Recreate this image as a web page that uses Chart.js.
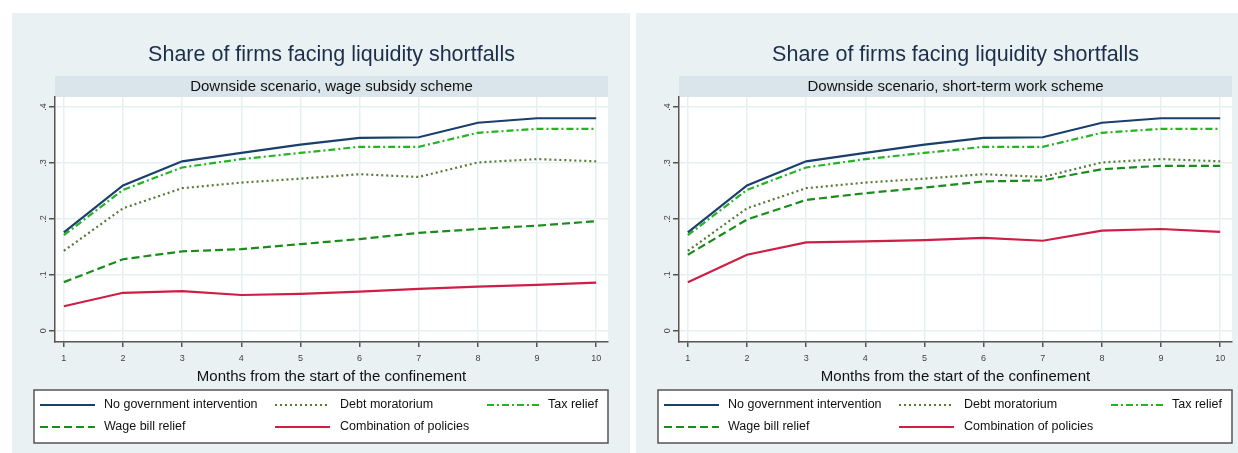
<!DOCTYPE html>
<html>
<head>
<meta charset="utf-8">
<script src="https://cdn.jsdelivr.net/npm/chart.js@4"></script>
<style>
  html, body { margin: 0; padding: 0; background: #fff; }
  body { width: 1238px; height: 453px; overflow: hidden; position: relative; }
  .panel { position: absolute; top: 13px; width: 618px; height: 440px; }
  #left { left: 12px; }
  #right { left: 636px; }
</style>
</head>
<body>
<div class="panel" id="left"><canvas id="chartLeft" width="618" height="440"></canvas></div>
<div class="panel" id="right"><canvas id="chartRight" width="618" height="440"></canvas></div>
<script>
// months since start of confinement
const months = [1, 2, 3, 4, 5, 6, 7, 8, 9, 10];
const yTicks = [0, 0.1, 0.2, 0.3, 0.4];

// series shared by both panels
const noGovt = [0.176, 0.260, 0.303, 0.318, 0.333, 0.345, 0.346, 0.372, 0.380, 0.380];
const debtMoratorium = [0.143, 0.219, 0.255, 0.265, 0.272, 0.280, 0.275, 0.301, 0.307, 0.303];
const taxRelief = [0.171, 0.252, 0.292, 0.307, 0.318, 0.329, 0.329, 0.354, 0.361, 0.361];

// wage subsidy scheme
const wageBillA = [0.087, 0.128, 0.142, 0.146, 0.155, 0.164, 0.175, 0.182, 0.188, 0.196];
const comboA = [0.044, 0.068, 0.071, 0.064, 0.066, 0.070, 0.075, 0.079, 0.082, 0.086];

// short-term work scheme
const wageBillB = [0.136, 0.199, 0.234, 0.246, 0.256, 0.267, 0.269, 0.289, 0.295, 0.295];
const comboB = [0.087, 0.136, 0.158, 0.160, 0.162, 0.166, 0.161, 0.179, 0.182, 0.177];

const FONT = "'Liberation Sans', Arial, sans-serif";

function makeDatasets(wage, combo) {
  const pts = (arr) => arr.map((v, i) => ({ x: months[i], y: v }));
  return [
    { label: "No government intervention", data: pts(noGovt), borderColor: "#1a3f6b", borderWidth: 2.2, borderDash: [] },
    { label: "Debt moratorium", data: pts(debtMoratorium), borderColor: "#557a35", borderWidth: 2.2, borderDash: [2, 3] },
    { label: "Tax relief", data: pts(taxRelief), borderColor: "#22b422", borderWidth: 2.2, borderDash: [7, 3, 2, 3] },
    { label: "Wage bill relief", data: pts(wage), borderColor: "#1a8c1a", borderWidth: 2.2, borderDash: [8, 4] },
    { label: "Combination of policies", data: pts(combo), borderColor: "#cc1f45", borderWidth: 2.2, borderDash: [] },
  ];
}

// panel background, headings and legend
const panelPlugin = {
  id: "panel",
  beforeDraw(chart, args, opts) {
    const { ctx, chartArea: a, width, height } = chart;
    ctx.save();
    ctx.fillStyle = "#e9f1f3";
    ctx.fillRect(0, 0, width, height);
    ctx.fillStyle = "#ffffff";
    ctx.fillRect(a.left, a.top, a.right - a.left, a.bottom - a.top);
    ctx.fillStyle = "#d9e5ea";
    ctx.fillRect(a.left, 63, a.right - a.left, a.top - 63);

    const cx = (a.left + a.right) / 2;
    ctx.textAlign = "center";
    ctx.textBaseline = "middle";
    ctx.fillStyle = "#1c2e4c";
    ctx.font = "21.5px " + FONT;
    ctx.fillText(opts.title, cx, 42);
    ctx.fillStyle = "#111";
    ctx.font = "15px " + FONT;
    ctx.fillText(opts.subtitle, cx, 74);
    ctx.fillText(opts.xTitle, cx, 364);

    // legend box
    ctx.fillStyle = "#fff";
    ctx.fillRect(22, 377, 574, 53);
    ctx.strokeStyle = "#555";
    ctx.lineWidth = 1.5;
    ctx.strokeRect(22, 377, 574, 53);

    const slots = [
      { line: [28, 83], text: 92, y: 392 },
      { line: [263, 318], text: 328, y: 392 },
      { line: [475, 528], text: 536, y: 392 },
      { line: [28, 83], text: 92, y: 414 },
      { line: [263, 318], text: 328, y: 414 },
    ];
    ctx.font = "12.5px " + FONT;
    ctx.textAlign = "left";
    chart.data.datasets.forEach((ds, i) => {
      const s = slots[i];
      ctx.beginPath();
      ctx.strokeStyle = ds.borderColor;
      ctx.lineWidth = ds.borderWidth;
      ctx.setLineDash(ds.borderDash);
      ctx.moveTo(s.line[0], s.y);
      ctx.lineTo(s.line[1], s.y);
      ctx.stroke();
      ctx.setLineDash([]);
      ctx.fillStyle = "#111";
      ctx.fillText(ds.label, s.text, s.y);
    });
    ctx.restore();
  },
};

function makeChart(id, subtitle, wage, combo) {
  return new Chart(document.getElementById(id), {
    type: "line",
    data: { datasets: makeDatasets(wage, combo) },
    plugins: [panelPlugin],
    options: {
      responsive: false,
      animation: false,
      layout: { padding: { left: 23, top: 84, right: 22, bottom: 86 } },
      elements: { point: { radius: 0 }, line: { tension: 0, fill: false } },
      plugins: {
        legend: { display: false },
        title: { display: false },
        tooltip: { enabled: false },
        panel: {
          title: "Share of firms facing liquidity shortfalls",
          subtitle: subtitle,
          xTitle: "Months from the start of the confinement",
        },
      },
      scales: {
        x: {
          type: "linear",
          min: 0.85,
          max: 10.2,
          afterBuildTicks: (s) => { s.ticks = months.map((v) => ({ value: v })); },
          afterFit: (s) => { s.height = 25; },
          grid: { color: "#e6eff2", lineWidth: 1.5, tickColor: "#555", tickLength: 5 },
          border: { color: "#555", width: 1.5 },
          ticks: { font: { family: FONT, size: 9 }, color: "#444", padding: 6, maxRotation: 0 },
        },
        y: {
          min: -0.02,
          max: 0.418,
          afterBuildTicks: (s) => { s.ticks = yTicks.map((v) => ({ value: v })); },
          afterFit: (s) => { s.width = 20; },
          grid: { color: "#e6eff2", lineWidth: 1.5, tickColor: "#555", tickLength: 6 },
          border: { color: "#555", width: 1.5 },
          ticks: {
            font: { family: FONT, size: 9 },
            color: "#444",
            padding: 2,
            minRotation: 90,
            maxRotation: 90,
            crossAlign: "center",
            callback: (v) => (v === 0 ? "0" : String(Math.round(v * 10) / 10).replace(/^0/, "")),
          },
        },
      },
    },
  });
}

makeChart("chartLeft", "Downside scenario, wage subsidy scheme", wageBillA, comboA);
makeChart("chartRight", "Downside scenario, short-term work scheme", wageBillB, comboB);
</script>
</body>
</html>
